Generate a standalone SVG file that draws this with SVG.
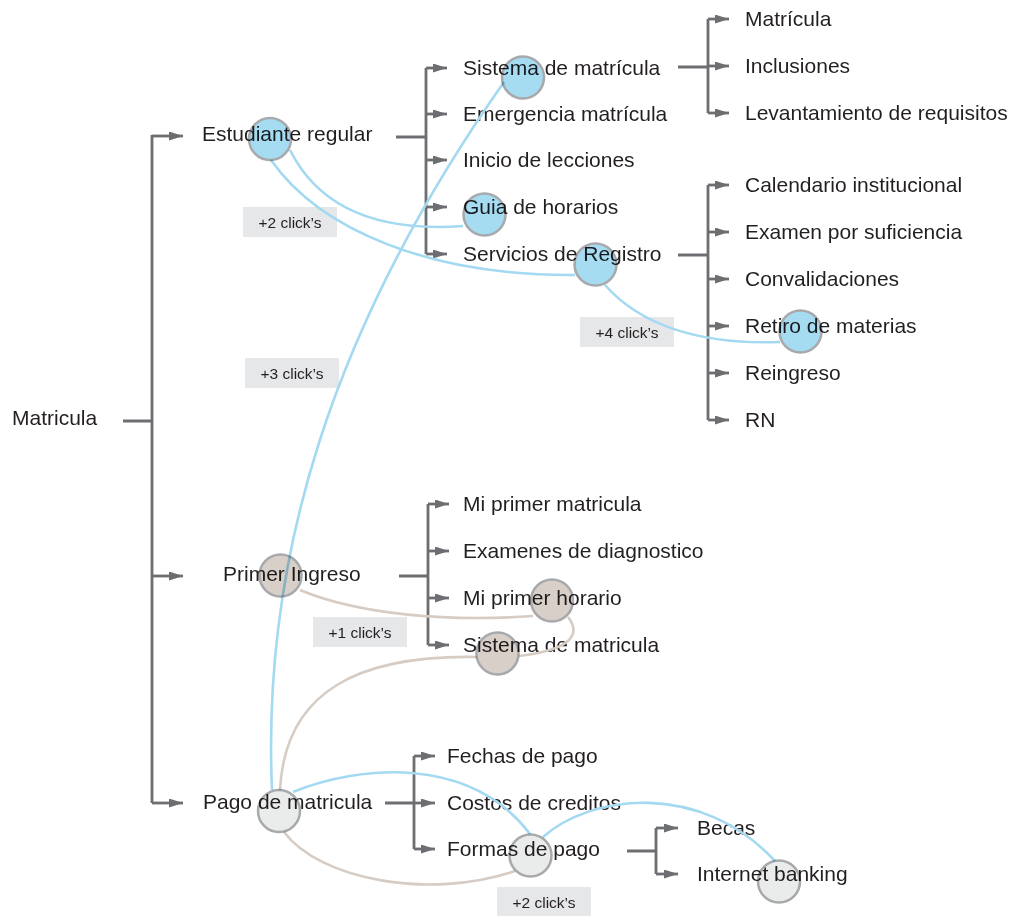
<svg xmlns="http://www.w3.org/2000/svg" width="1017" height="916" viewBox="0 0 1017 916">
<defs>
<marker id="ah" markerUnits="userSpaceOnUse" markerWidth="16" markerHeight="10" refX="14" refY="4.5" orient="auto">
<path d="M0,0 L14,4.5 L0,9 z" fill="#6d6e71"/>
</marker>
<style>
.t{font-family:"Liberation Sans",Arial,sans-serif;font-size:21px;fill:#231f20}
.br{fill:none;stroke:#6d6e71;stroke-width:2.8}
.ar{fill:none;stroke:#6d6e71;stroke-width:2.8;marker-end:url(#ah)}
.lb rect{fill:#e6e7e8}
.lb text{font-family:"Liberation Sans",Arial,sans-serif;font-size:15.5px;fill:#231f20;text-anchor:middle}
.pb{fill:none;stroke:#a3d9f1;stroke-width:2.6}
.pg{fill:none;stroke:#d6ccc4;stroke-width:2.6}
.c{stroke:#a7a9ac;stroke-width:2.5;mix-blend-mode:multiply}
.cb{fill:#a6dcf2}
.cg{fill:#d8cfc8}
.cl{fill:#eaebeb}
</style>
</defs>
<rect width="1017" height="916" fill="#ffffff"/>

<g id="connectors">
<path class="br" d="M123,421 H152 M152,135 V803"/>
<path class="ar" d="M152,136 H183"/>
<path class="ar" d="M152,576 H183"/>
<path class="ar" d="M152,803 H183"/>

<path class="br" d="M396,137 H426 M426,68 V254"/>
<path class="ar" d="M426,68 H447"/>
<path class="ar" d="M426,114 H447"/>
<path class="ar" d="M426,160 H447"/>
<path class="ar" d="M426,207 H447"/>
<path class="ar" d="M426,254 H447"/>

<path class="br" d="M678,67 H708 M708,19 V113"/>
<path class="ar" d="M708,19 H729"/>
<path class="ar" d="M708,66 H729"/>
<path class="ar" d="M708,113 H729"/>

<path class="br" d="M678,255 H708 M708,185 V420"/>
<path class="ar" d="M708,185 H729"/>
<path class="ar" d="M708,232 H729"/>
<path class="ar" d="M708,279 H729"/>
<path class="ar" d="M708,326 H729"/>
<path class="ar" d="M708,373 H729"/>
<path class="ar" d="M708,420 H729"/>

<path class="br" d="M399,576 H428 M428,504 V645"/>
<path class="ar" d="M428,504 H449"/>
<path class="ar" d="M428,551 H449"/>
<path class="ar" d="M428,598 H449"/>
<path class="ar" d="M428,645 H449"/>

<path class="br" d="M385,803 H414 M414,756 V849"/>
<path class="ar" d="M414,756 H435"/>
<path class="ar" d="M414,803 H435"/>
<path class="ar" d="M414,849 H435"/>

<path class="br" d="M627,851 H656 M656,828 V874"/>
<path class="ar" d="M656,828 H678"/>
<path class="ar" d="M656,874 H678"/>
</g>

<g id="n-matricula"><text class="t" x="12" y="425">Matricula</text></g>
<g id="n-estudiante"><text class="t" x="202" y="141">Estudiante regular</text></g>
<g id="n-sistema"><text class="t" x="463" y="75">Sistema de matrícula</text></g>
<g id="n-emergencia"><text class="t" x="463" y="121">Emergencia matrícula</text></g>
<g id="n-inicio"><text class="t" x="463" y="167">Inicio de lecciones</text></g>
<g id="n-guia"><text class="t" x="463" y="214">Guia de horarios</text></g>
<g id="n-servicios"><text class="t" x="463" y="261">Servicios de Registro</text></g>
<g id="n-matricula2"><text class="t" x="745" y="26">Matrícula</text></g>
<g id="n-inclusiones"><text class="t" x="745" y="73">Inclusiones</text></g>
<g id="n-levantamiento"><text class="t" x="745" y="120">Levantamiento de requisitos</text></g>
<g id="n-calendario"><text class="t" x="745" y="192">Calendario institucional</text></g>
<g id="n-examen"><text class="t" x="745" y="239">Examen por suficiencia</text></g>
<g id="n-convalidaciones"><text class="t" x="745" y="286">Convalidaciones</text></g>
<g id="n-retiro"><text class="t" x="745" y="333">Retiro de materias</text></g>
<g id="n-reingreso"><text class="t" x="745" y="380">Reingreso</text></g>
<g id="n-rn"><text class="t" x="745" y="427">RN</text></g>
<g id="n-primer"><text class="t" x="223" y="581">Primer Ingreso</text></g>
<g id="n-miprimermat"><text class="t" x="463" y="511">Mi primer matricula</text></g>
<g id="n-examenes"><text class="t" x="463" y="558">Examenes de diagnostico</text></g>
<g id="n-miprimerhor"><text class="t" x="463" y="605">Mi primer horario</text></g>
<g id="n-sistema2"><text class="t" x="463" y="652">Sistema de matricula</text></g>
<g id="n-pago"><text class="t" x="203" y="809">Pago de matricula</text></g>
<g id="n-fechas"><text class="t" x="447" y="763">Fechas de pago</text></g>
<g id="n-costos"><text class="t" x="447" y="810">Costos de creditos</text></g>
<g id="n-formas"><text class="t" x="447" y="856">Formas de pago</text></g>
<g id="n-becas"><text class="t" x="697" y="835">Becas</text></g>
<g id="n-internet"><text class="t" x="697" y="881">Internet banking</text></g>

<g id="labels" class="lb">
<rect x="243" y="207" width="94" height="30"/><text x="290" y="228">+2 click’s</text>
<rect x="245" y="358" width="94" height="30"/><text x="292" y="379">+3 click’s</text>
<rect x="580" y="317" width="94" height="30"/><text x="627" y="338">+4 click’s</text>
<rect x="313" y="617" width="94" height="30"/><text x="360" y="638">+1 click’s</text>
<rect x="497" y="887" width="94" height="30"/><text x="544" y="908">+2 click’s</text>
</g>

<g id="paths">
<path class="pb" d="M271,160 C320,230 430,276 575,275"/>
<path class="pb" d="M290,150 C320,210 380,232 463,226"/>
<path class="pb" d="M272,790 C262,560 330,330 504,82"/>
<path class="pb" d="M605,285 C640,325 700,345 780,342"/>
<path class="pb" d="M293,792 C360,765 470,755 530,834"/>
<path class="pb" d="M543,837 C590,795 700,780 775,861"/>
<path class="pg" d="M300,590 C360,615 450,622 533,616"/>
<path class="pg" d="M568,617 C582,635 570,650 519,656"/>
<path class="pg" d="M477,657 C360,655 285,690 280,790"/>
<path class="pg" d="M284,832 C320,880 430,900 515,871"/>
</g>

<g id="circles">
<circle class="c cb" cx="270" cy="139" r="21"/>
<circle class="c cb" cx="523" cy="77.5" r="21"/>
<circle class="c cb" cx="484.5" cy="214.5" r="21"/>
<circle class="c cb" cx="595.5" cy="264.5" r="21"/>
<circle class="c cb" cx="800.5" cy="331.5" r="21"/>
<circle class="c cg" cx="280.5" cy="575.5" r="21"/>
<circle class="c cg" cx="552" cy="600.5" r="21"/>
<circle class="c cg" cx="497.5" cy="653.5" r="21"/>
<circle class="c cl" cx="279" cy="811" r="21"/>
<circle class="c cl" cx="530.5" cy="855.5" r="21"/>
<circle class="c cl" cx="779" cy="881.5" r="21"/>
</g>
</svg>
